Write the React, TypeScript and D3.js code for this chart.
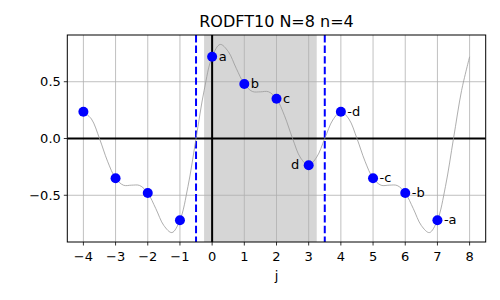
import React from "react";
import * as d3 from "d3";

const pointJ = [-4, -3, -2, -1, 0, 1, 2, 3, 4, 5, 6, 7];
const pointValues = [0.235, -0.35, -0.48, -0.72, 0.72, 0.48, 0.35, -0.235, 0.235, -0.35, -0.48, -0.72];
const pointLabels = ["", "", "", "", "a", "b", "c", "d", "-d", "-c", "-b", "-a"];
const labelOnLeft = [false, false, false, false, false, false, false, true, false, false, false, false];

const curveT = [
  -4, -3.75, -3.5, -3.25, -3, -2.75, -2.5, -2.25, -2, -1.75, -1.5, -1.25, -1, -0.75, -0.5, -0.25,
  0, 0.25, 0.5, 0.75, 1, 1.25, 1.5, 1.75, 2, 2.25, 2.5, 2.75, 3, 3.25, 3.5, 3.75,
  4, 4.25, 4.5, 4.75, 5, 5.25, 5.5, 5.75, 6, 6.25, 6.5, 6.75, 7, 7.25, 7.5, 7.75, 8,
];
const curveValues = [
  0.2348, 0.1716, 0.0, -0.2, -0.3498, -0.4118, -0.411, -0.414, -0.4802, -0.6174, -0.7664, -0.8286, -0.7196, -0.4216, 0.0, 0.4216,
  0.7196, 0.8286, 0.7664, 0.6174, 0.4802, 0.414, 0.411, 0.4118, 0.3498, 0.2, 0.0, -0.1716, -0.2348, -0.1634, 0.0, 0.1634,
  0.2348, 0.1716, 0.0, -0.2, -0.3498, -0.4118, -0.411, -0.414, -0.4802, -0.6174, -0.7664, -0.8286, -0.7196, -0.4216, 0.0, 0.4216, 0.7196,
];

const xTicks = [-4, -3, -2, -1, 0, 1, 2, 3, 4, 5, 6, 7, 8];
const xTickLabels = ["−4", "−3", "−2", "−1", "0", "1", "2", "3", "4", "5", "6", "7", "8"];
const yTicks = [-0.5, 0, 0.5];
const yTickLabels = ["−0.5", "0.0", "0.5"];

const shadeSpan = [-0.25, 3.25];
const dashedX = [-0.5, 3.5];
const xDomain = [-4.5, 8.5];
const yDomain = [-0.9115, 0.9115];

const titleText = "RODFT10 N=8 n=4";
const xLabelText = "j";

export default function App() {
  const left = 67.3, right = 485.7, top = 35, bottom = 242;
  const x = d3.scaleLinear().domain(xDomain).range([left, right]);
  const y = d3.scaleLinear().domain(yDomain).range([bottom, top]);
  const line = d3
    .line<number>()
    .x((_, i) => x(curveT[i]))
    .y((d) => y(d))
    .curve(d3.curveCatmullRom.alpha(0.5));
  const font = "DejaVu Sans, sans-serif";

  return (
    <svg
      width={500}
      height={300}
      style={{ position: "absolute", left: 0, top: 0, background: "#fff" }}
      fontFamily={font}
    >
      <rect x={0} y={0} width={500} height={300} fill="#fff" />
      <defs>
        <clipPath id="plotclip">
          <rect x={left} y={top} width={right - left} height={bottom - top} />
        </clipPath>
      </defs>
      <rect
        x={x(shadeSpan[0])}
        y={top}
        width={x(shadeSpan[1]) - x(shadeSpan[0])}
        height={bottom - top}
        fill="#d6d6d6"
      />
      {xTicks.map((t) => (
        <line key={"gx" + t} x1={x(t)} x2={x(t)} y1={top} y2={bottom} stroke="#b0b0b0" strokeWidth={0.8} />
      ))}
      {yTicks.map((t) => (
        <line key={"gy" + t} x1={left} x2={right} y1={y(t)} y2={y(t)} stroke="#b0b0b0" strokeWidth={0.8} />
      ))}
      <g clipPath="url(#plotclip)">
        <line x1={left} x2={right} y1={y(0)} y2={y(0)} stroke="#000" strokeWidth={2} />
        <line x1={x(0)} x2={x(0)} y1={top} y2={bottom} stroke="#000" strokeWidth={2} />
        {dashedX.map((d) => (
          <line
            key={"dash" + d}
            x1={x(d)}
            x2={x(d)}
            y1={top}
            y2={bottom}
            stroke="#0000ff"
            strokeWidth={2}
            strokeDasharray="7.4,3.2"
          />
        ))}
        <path d={line(curveValues) || ""} fill="none" stroke="#999999" strokeWidth={0.8} />
        {pointJ.map((j, i) => (
          <circle key={"p" + j} cx={x(j)} cy={y(pointValues[i])} r={5} fill="#0000ff" />
        ))}
      </g>
      {pointJ.map((j, i) =>
        pointLabels[i] ? (
          <text
            key={"l" + j}
            x={labelOnLeft[i] ? x(j) - 9.5 : x(j) + 6.5}
            y={y(pointValues[i])}
            dy="0.3em"
            fontSize={13}
            textAnchor={labelOnLeft[i] ? "end" : "start"}
            fill="#000"
          >
            {pointLabels[i]}
          </text>
        ) : null
      )}
      <rect x={left} y={top} width={right - left} height={bottom - top} fill="none" stroke="#000" strokeWidth={1} />
      {xTicks.map((t, i) => (
        <g key={"xt" + t}>
          <line x1={x(t)} x2={x(t)} y1={bottom} y2={bottom + 3.5} stroke="#000" strokeWidth={0.8} />
          <text x={x(t)} y={bottom + 18.5} fontSize={13} textAnchor="middle" fill="#000">
            {xTickLabels[i]}
          </text>
        </g>
      ))}
      {yTicks.map((t, i) => (
        <g key={"yt" + t}>
          <line x1={left - 3.5} x2={left} y1={y(t)} y2={y(t)} stroke="#000" strokeWidth={0.8} />
          <text x={left - 6.5} y={y(t)} dy="0.35em" fontSize={13} textAnchor="end" fill="#000">
            {yTickLabels[i]}
          </text>
        </g>
      ))}
      <text x={(left + right) / 2} y={280} fontSize={13} textAnchor="middle" fill="#000">
        {xLabelText}
      </text>
      <text x={(left + right) / 2} y={27.3} fontSize={16} textAnchor="middle" fill="#000">
        {titleText}
      </text>
    </svg>
  );
}
